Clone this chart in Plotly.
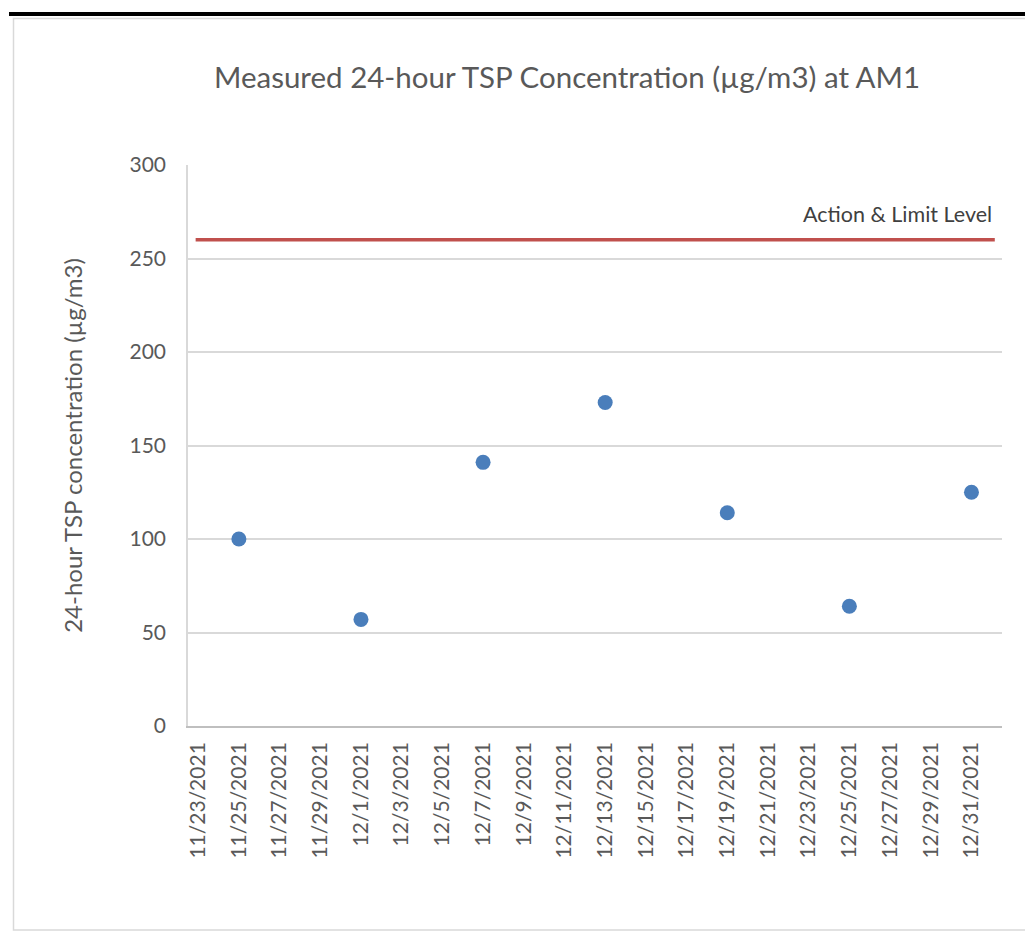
import plotly.graph_objects as go

# Data
dates = ["2021-11-25", "2021-12-01", "2021-12-07", "2021-12-13",
         "2021-12-19", "2021-12-25", "2021-12-31"]
tsp = [100, 57, 141, 173, 114, 64, 125]

limit_x = ["2021-11-22 21:00", "2022-01-01 03:30"]
limit_y = [260, 260]
limit_label = "Action & Limit Level"

title = "Measured 24-hour TSP Concentration (µg/m3) at AM1"
y_title = "24-hour TSP concentration (µg/m3)"

FONT = "Lato"

fig = go.Figure()
fig.add_trace(go.Scatter(
    x=limit_x, y=limit_y, mode="lines",
    line=dict(color="#c0504d", width=3.5),
    hoverinfo="skip", showlegend=False))
fig.add_trace(go.Scatter(
    x=dates, y=tsp, mode="markers",
    marker=dict(color="#4a7ebb", size=15),
    showlegend=False))

fig.add_annotation(x=limit_x[1], y=274, xref="x", yref="y",
                   text=limit_label, showarrow=False, xanchor="right",
                   xshift=-1,
                   font=dict(family=FONT, size=21.5, color="#404040"))

W, H = 1025, 933
L, R, T, B = 188, 23, 165, 207
pw, ph = W - L - R, H - T - B

def px(x):
    return (x - L) / pw

def py(y):
    return (H - B - y) / ph

# frame: black bar on top and gray border
fig.add_shape(type="rect", xref="paper", yref="paper",
              x0=px(9), x1=px(1030), y0=py(16), y1=py(12),
              fillcolor="black", line=dict(width=0), layer="below")
fig.add_shape(type="rect", xref="paper", yref="paper",
              x0=px(13.5), x1=px(1040), y0=py(930), y1=py(18.5),
              fillcolor="rgba(0,0,0,0)", line=dict(color="#d9d9d9", width=1.5),
              layer="below")

fig.update_layout(
    width=W, height=H,
    margin=dict(l=L, r=R, t=T, b=B),
    paper_bgcolor="white", plot_bgcolor="white",
    font=dict(family=FONT, color="#595959"),
    title=dict(text=title, x=(567 / W), xanchor="center",
               y=1 - 78 / H, yanchor="middle",
               xref="container", yref="container",
               font=dict(family=FONT, size=29.5, color="#595959")),
    xaxis=dict(
        type="date",
        range=["2021-11-22 12:00", "2022-01-01 12:00"],
        tick0="2021-11-23", dtick=2 * 86400000,
        tickformat="%-m/%-d/%Y", tickangle=-90,
        tickfont=dict(family=FONT, size=21, color="#595959"),
        showgrid=False, showline=True, linecolor="#bfbfbf", linewidth=1.5,
        ticks="", ticklabelstandoff=6, zeroline=False,
    ),
    yaxis=dict(
        range=[0, 300], dtick=50,
        tickfont=dict(family=FONT, size=21, color="#595959"),
        showgrid=True, gridcolor="#d9d9d9", gridwidth=1.5,
        showline=True, linecolor="#d9d9d9", linewidth=1.5,
        zeroline=False, ticks="", ticklabelstandoff=16,
        title=dict(text=y_title, standoff=40,
                   font=dict(family=FONT, size=24, color="#595959")),
    ),
)

fig.write_html("out.html", config={"displayModeBar": False},
               post_script="document.body.style.margin='0';")
